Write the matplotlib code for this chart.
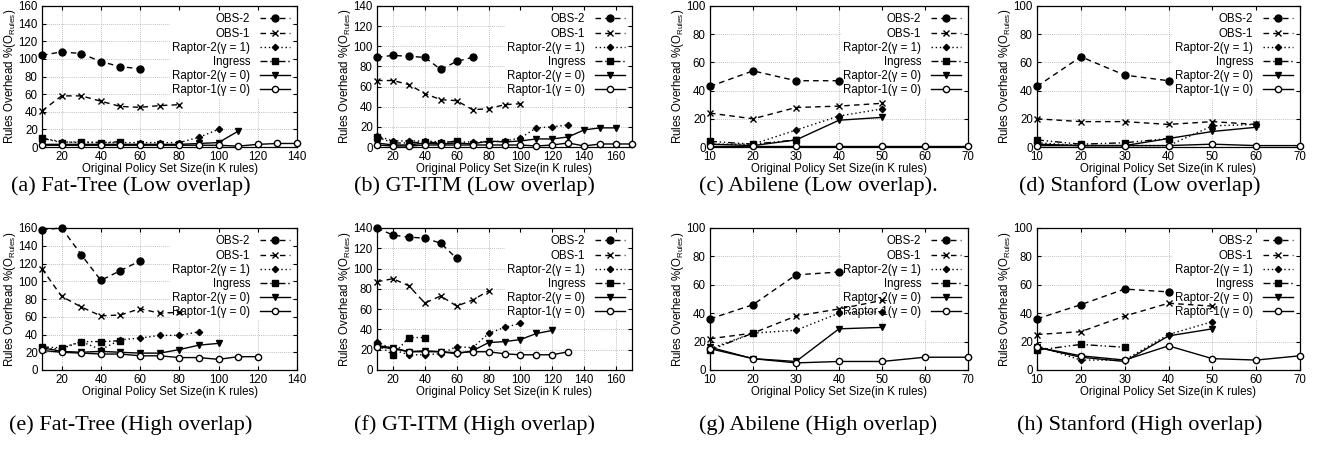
import matplotlib
matplotlib.use("Agg")
import matplotlib.pyplot as plt

plt.rcParams["font.family"] = ["Liberation Sans", "DejaVu Sans"]
plt.rcParams["mathtext.fontset"] = "custom"
plt.rcParams["mathtext.rm"] = "Liberation Sans"
plt.rcParams["mathtext.it"] = "Liberation Sans:italic"

# policy set sizes (K rules); each series uses the first len(y) of them
sizes = [10, 20, 30, 40, 50, 60, 70, 80, 90, 100, 110, 120, 130, 140, 150, 160, 170]

series_names = ["OBS-2", "OBS-1", "Raptor-2(γ = 1)", "Ingress",
                "Raptor-2(γ = 0)", "Raptor-1(γ = 0)"]

# (a) Fat-Tree, low overlap
ft_low_obs2 = [104, 108, 106, 97, 91, 89]
ft_low_obs1 = [41, 58, 58, 52, 46, 45, 47, 48]
ft_low_r2g1 = [10, 6, 5, 5, 5, 5, 5, 5, 11, 20]
ft_low_ingress = [10, 5, 6, 5, 6]
ft_low_r2g0 = [3, 3, 3, 3, 3, 3, 3, 3, 4, 5, 18]
ft_low_r1g0 = [2, 2, 2, 2, 2, 2, 2, 2, 2, 2, 1, 3, 4, 4]

# (b) GT-ITM, low overlap
gt_low_obs2 = [89, 91, 90, 89, 77, 85, 89]
gt_low_obs1 = [66, 66, 62, 53, 47, 46, 37, 38, 42, 43]
gt_low_r2g1 = [11, 6, 6, 6, 5, 5, 5, 5, 6, 9, 19, 20, 22]
gt_low_ingress = [10, 4, 4, 5, 4, 6]
gt_low_r2g0 = [4, 2, 2, 4, 3, 4, 3, 6, 5, 6, 8, 8, 10, 17, 19, 19]
gt_low_r1g0 = [2, 1, 1, 2, 2, 2, 2, 2, 2, 2, 1, 2, 4, 1, 3, 3, 3]

# (c) Abilene, low overlap
ab_low_obs2 = [43, 54, 47, 47]
ab_low_obs1 = [24, 20, 28, 29, 31]
ab_low_r2g1 = [2, 2, 12, 22, 27]
ab_low_ingress = [4, 2, 5]
ab_low_r2g0 = [2, 1, 5, 19, 21]
ab_low_r1g0 = [1, 1, 1, 1, 1, 1, 1]

# (d) Stanford, low overlap
st_low_obs2 = [43, 64, 51, 47]
st_low_obs1 = [20, 18, 18, 16, 18, 16]
st_low_r2g1 = [3, 1, 1, 1, 15, 16]
st_low_ingress = [5, 2, 3, 6]
st_low_r2g0 = [2, 1, 1, 6, 11, 14]
st_low_r1g0 = [1, 1, 1, 1, 2, 1, 1]

# (e) Fat-Tree, high overlap
ft_high_obs2 = [158, 160, 130, 101, 112, 123]
ft_high_obs1 = [114, 83, 71, 61, 62, 69, 64, 65]
ft_high_r2g1 = [24, 24, 32, 23, 34, 36, 39, 39, 43]
ft_high_ingress = [26, 25, 32, 32, 33]
ft_high_r2g0 = [25, 21, 20, 21, 20, 19, 19, 23, 28, 30]
ft_high_r1g0 = [22, 20, 19, 18, 18, 16, 16, 14, 14, 12, 15, 15]

# (f) GT-ITM, high overlap
gt_high_obs2 = [140, 133, 131, 130, 125, 110]
gt_high_obs1 = [87, 90, 83, 66, 73, 63, 69, 78]
gt_high_r2g1 = [28, 20, 15, 15, 16, 23, 22, 36, 42, 46]
gt_high_ingress = [25, 15, 32, 32]
gt_high_r2g0 = [24, 22, 18, 19, 18, 16, 19, 27, 28, 30, 36, 39]
gt_high_r1g0 = [23, 21, 18, 18, 18, 17, 18, 18, 16, 15, 15, 15, 18]

# (g) Abilene, high overlap
ab_high_obs2 = [36, 46, 67, 69]
ab_high_obs1 = [22, 26, 38, 43, 49]
ab_high_r2g1 = [15, 26, 28, 40, 41]
ab_high_ingress = [14, 26]
ab_high_r2g0 = [16, 8, 6, 29, 30]
ab_high_r1g0 = [15, 8, 5, 6, 6, 9, 9]

# (h) Stanford, high overlap
st_high_obs2 = [36, 46, 57, 55]
st_high_obs1 = [25, 27, 38, 47, 45]
st_high_r2g1 = [17, 7, 7, 25, 34]
st_high_ingress = [14, 18, 16]
st_high_r2g0 = [16, 9, 6, 24, 29]
st_high_r1g0 = [16, 10, 7, 17, 8, 7, 10]

captions = ["(a) Fat-Tree (Low overlap)", "(b) GT-ITM (Low overlap)",
            "(c) Abilene (Low overlap).", "(d) Stanford (Low overlap)",
            "(e) Fat-Tree (High overlap)", "(f) GT-ITM (High overlap)",
            "(g) Abilene (High overlap)", "(h) Stanford (High overlap)"]

panels = [
    [ft_low_obs2, ft_low_obs1, ft_low_r2g1, ft_low_ingress, ft_low_r2g0, ft_low_r1g0],
    [gt_low_obs2, gt_low_obs1, gt_low_r2g1, gt_low_ingress, gt_low_r2g0, gt_low_r1g0],
    [ab_low_obs2, ab_low_obs1, ab_low_r2g1, ab_low_ingress, ab_low_r2g0, ab_low_r1g0],
    [st_low_obs2, st_low_obs1, st_low_r2g1, st_low_ingress, st_low_r2g0, st_low_r1g0],
    [ft_high_obs2, ft_high_obs1, ft_high_r2g1, ft_high_ingress, ft_high_r2g0, ft_high_r1g0],
    [gt_high_obs2, gt_high_obs1, gt_high_r2g1, gt_high_ingress, gt_high_r2g0, gt_high_r1g0],
    [ab_high_obs2, ab_high_obs1, ab_high_r2g1, ab_high_ingress, ab_high_r2g0, ab_high_r1g0],
    [st_high_obs2, st_high_obs1, st_high_r2g1, st_high_ingress, st_high_r2g0, st_high_r1g0],
]

# gnuplot-ish styles: (dashes, marker, marker face, marker size)
styles = [
    ((4, 3), "o", "k", 5.0),
    ((4, 3), "x", "k", 5.0),
    ((1, 2), "D", "k", 3.2),
    ((5, 2, 1, 2, 1, 2), "s", "k", 5.0),
    (None, "v", "k", 5.0),
    (None, "o", "white", 4.5),
]

xlims = [(10, 140), (10, 170), (10, 70), (10, 70)] * 2
xticks = [range(20, 141, 20), range(20, 161, 20), range(10, 71, 10), range(10, 71, 10)] * 2
ylims = [160, 140, 100, 100] * 2

W, H = 1323, 449
fig = plt.figure(figsize=(W / 100, H / 100), dpi=100)

# axes boxes in pixels: left, right
cols = [(42, 297), (377, 632), (710, 968), (1037, 1300)]
rows = [(6, 147), (228, 370)]
cap_x = [131, 474, 818, 1140]
cap_y = [186, 425]
FS = 8.3

for i, data in enumerate(panels):
    r, c = divmod(i, 4)
    l, rr = cols[c]
    t, b = rows[r]
    ax = fig.add_axes([l / W, 1 - b / H, (rr - l) / W, (b - t) / H])
    for name, y, (dash, mk, mfc, ms) in zip(series_names, data, styles):
        x = sizes[:len(y)]
        line, = ax.plot(x, y, color="k", lw=1.0, marker=mk, markersize=ms,
                        markerfacecolor=mfc, markeredgecolor="k",
                        markeredgewidth=1.0, label=name, clip_on=False,
                        zorder=3)
        if dash is not None:
            line.set_dashes(dash)
    ax.set_xlim(*xlims[i])
    ax.set_ylim(0, ylims[i])
    ax.set_xticks(list(xticks[i]))
    ax.set_yticks(range(0, ylims[i] + 1, 20))
    ax.tick_params(direction="in", top=True, right=True, labelsize=FS,
                   length=3, width=0.8, pad=3)
    ax.grid(True, color="#aaaaaa", linestyle=(0, (1, 1.5)), linewidth=0.6)
    for s in ax.spines.values():
        s.set_linewidth(0.9)
    ax.set_xlabel("Original Policy Set Size(in K rules)", fontsize=FS, labelpad=0)
    ax.set_ylabel(r"Rules Overhead %(O$_{\rm Rules}$)", fontsize=FS, labelpad=0)
    leg = ax.legend(loc="upper right", fontsize=FS, markerfirst=False,
                    handlelength=2.6, handletextpad=0.8, labelspacing=0.18,
                    borderaxespad=0.45, borderpad=0.2, numpoints=1,
                    frameon=True, fancybox=False)
    leg.get_frame().set_edgecolor("none")
    leg.get_frame().set_facecolor("white")
    leg.get_frame().set_alpha(1.0)
    leg.set_zorder(2)
    for t_ in leg.get_texts():
        t_.set_ha("right")
    fig.text(cap_x[c] / W, 1 - cap_y[r] / H, captions[i], ha="center", va="center",
             fontsize=16, family=["Liberation Serif", "DejaVu Serif"])

fig.savefig("out.png", dpi=100)
